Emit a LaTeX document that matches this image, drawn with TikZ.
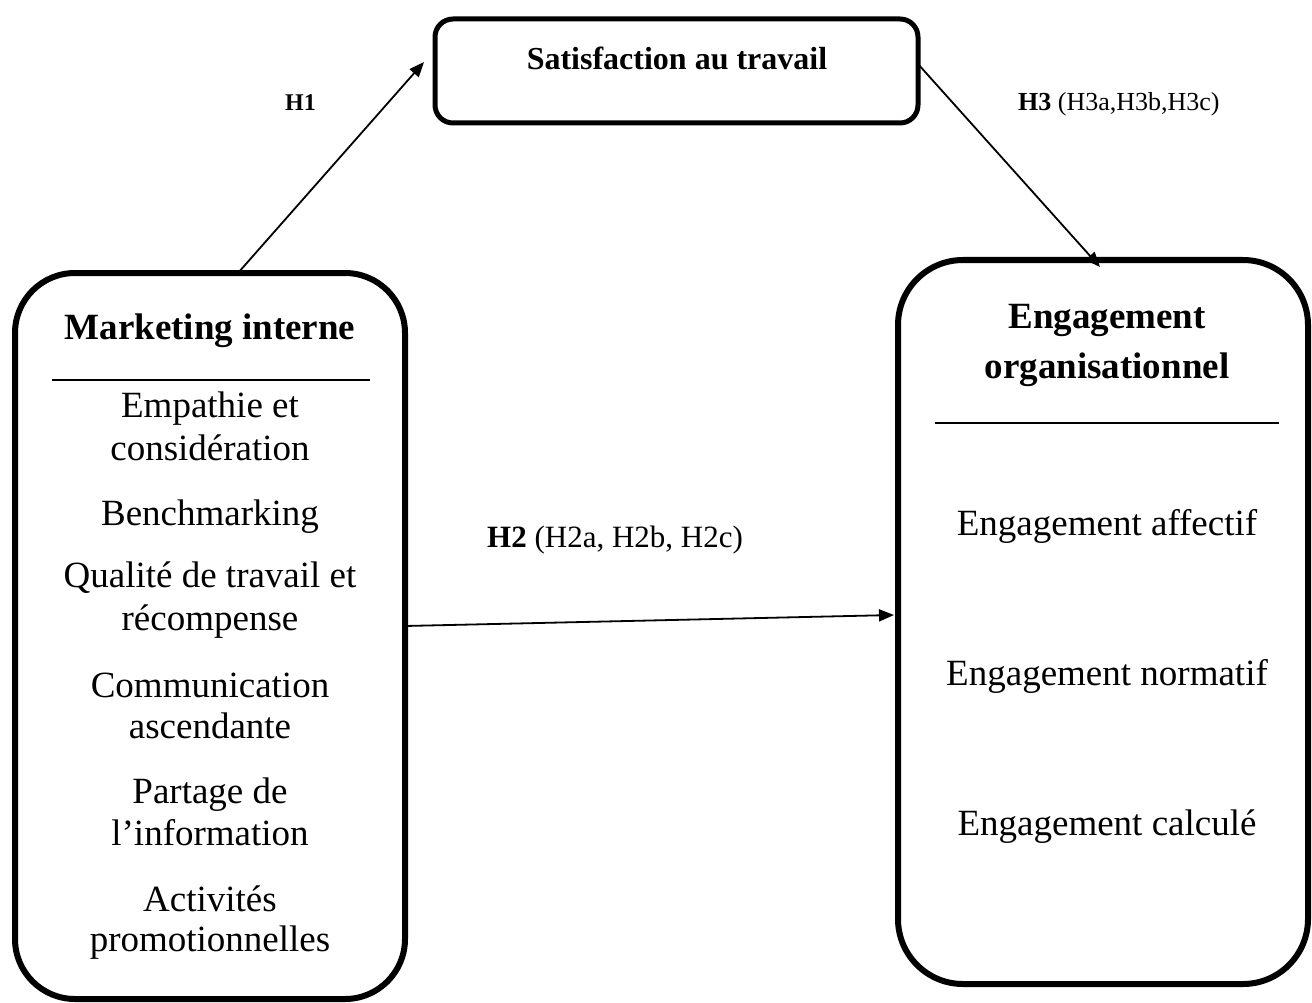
\documentclass[tikz,border=0pt]{standalone}
\usepackage{fontspec}
\setmainfont{Liberation Serif}
\usetikzlibrary{arrows.meta,calc}
\begin{document}
\begin{tikzpicture}[x=1pt,y=-1pt,
  bigbox/.style={draw,line width=6pt,rounded corners=60pt,outer sep=0pt,inner sep=0pt},
  topbox/.style={draw,line width=5pt,rounded corners=18pt,outer sep=0pt,inner sep=0pt},
  conn/.style={line width=1.8pt,-{Triangle[length=15pt,width=12pt]}},
  rulestyle/.style={line width=2.5pt},
  bodytxt/.style={font=\fontsize{37}{42}\selectfont,anchor=base,inner sep=0pt},
  headtxt/.style={font=\fontsize{37}{50}\selectfont\bfseries,anchor=base,inner sep=0pt},
  sattxt/.style={font=\fontsize{32}{38}\selectfont\bfseries,anchor=base,inner sep=0pt},
  hlab/.style={anchor=base west,inner sep=0pt}
]
\useasboundingbox (0,0) rectangle (1312,1003);

% boxes
\node[bigbox,minimum width=390pt,minimum height=726pt] (mi) at (210,636) {};
\node[bigbox,rounded corners=65pt,minimum width=410pt,minimum height=724pt] (eo) at (1103,622) {};
\node[topbox,minimum width=483pt,minimum height=104pt] (sat) at (676.5,71) {};

% top box text
\node[sattxt] (satt) at (677,70) {Satisfaction au travail};

% left box
\node[headtxt] (mih) at (210,339) {Marketing interne};
\draw[rulestyle] (52,380) -- (370,380);
\node[bodytxt] (l1) at (210,417) {Empathie et};
\node[bodytxt] (l2) at (210,460) {considération};
\node[bodytxt] (l3) at (210,525) {Benchmarking};
\node[bodytxt] (l4) at (210,587) {Qualité de travail et};
\node[bodytxt] (l5) at (210,630) {récompense};
\node[bodytxt] (l6) at (210,697) {Communication};
\node[bodytxt] (l7) at (210,738) {ascendante};
\node[bodytxt] (l8) at (210,803) {Partage de};
\node[bodytxt] (l9) at (210,845) {l’information};
\node[bodytxt] (l10) at (210,911) {Activités};
\node[bodytxt] (l11) at (210,951) {promotionnelles};

% right box
\node[headtxt] (eoh1) at (1107,328) {Engagement};
\node[headtxt] (eoh2) at (1107,378) {organisationnel};
\draw[rulestyle] (935,423) -- (1279,423);
\node[bodytxt] (r1) at (1107,535) {Engagement affectif};
\node[bodytxt] (r2) at (1107,685) {Engagement normatif};
\node[bodytxt] (r3) at (1107,835) {Engagement calculé};

% labels
\node[hlab,font=\fontsize{24}{28}\selectfont] (h1) at (285,111) {\textbf{H1}};
\node[hlab,font=\fontsize{26}{30}\selectfont] (h3) at (1018,111) {\textbf{H3} (H3a,H3b,H3c)};
\node[hlab,font=\fontsize{31}{36}\selectfont] (h2) at (487,547) {\textbf{H2} (H2a, H2b, H2c)};

% connectors
\coordinate (h1end) at (424,62);
\coordinate (h3end) at (1100,267);
\draw[conn] ([xshift=28pt]mi.north) -- (h1end);
\draw[conn] ([yshift=7pt]sat.east) -- (h3end);
\draw[conn] ([yshift=10pt]mi.east) -- ([yshift=7pt,xshift=-4pt]eo.west);
\end{tikzpicture}
\end{document}
